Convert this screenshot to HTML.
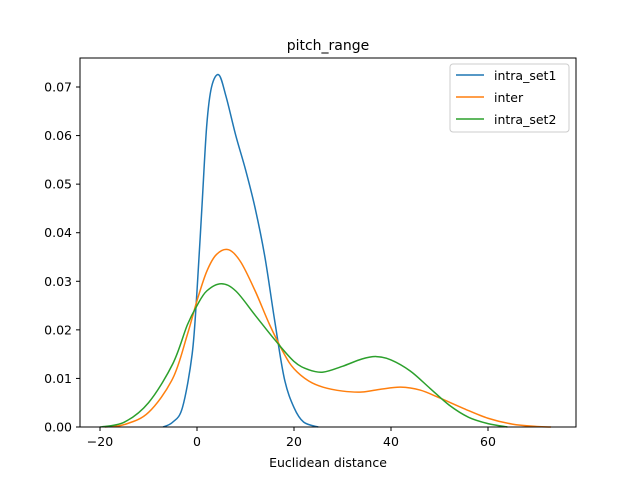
<!DOCTYPE html>
<html><head><meta charset="utf-8"><style>
body{margin:0;background:#fff;}
svg{display:block;font-family:"DejaVu Sans","Liberation Sans",sans-serif;}
</style></head><body>
<svg id="chart" width="640" height="480">
<rect width="640" height="480" fill="#fff"/>
<text x="328" y="50" font-size="14" text-anchor="middle">pitch_range</text>
<g id="plot"></g>
<rect x="80" y="58" width="496" height="369" fill="none" stroke="#000" stroke-width="1"/>
<text x="328" y="467" font-size="12.5" text-anchor="middle">Euclidean distance</text>
<g id="xt"></g><g id="yt"></g>
<g>
<rect x="450" y="64" width="119" height="68" rx="3" fill="#fff" stroke="#ccc"/>
<line x1="456" y1="75" x2="484" y2="75" stroke="#1f77b4" stroke-width="1.5"/>
<text x="494" y="80" font-size="12.5">intra_set1</text>
<line x1="456" y1="97" x2="484" y2="97" stroke="#ff7f0e" stroke-width="1.5"/>
<text x="494" y="102" font-size="12.5">inter</text>
<line x1="456" y1="119" x2="484" y2="119" stroke="#2ca02c" stroke-width="1.5"/>
<text x="494" y="124" font-size="12.5">intra_set2</text>
</g>
</svg>
<script>
const xTicks=[-20,0,20,40,60];
const yTicks=[0,0.01,0.02,0.03,0.04,0.05,0.06,0.07];
const yTickLabels=["0.00","0.01","0.02","0.03","0.04","0.05","0.06","0.07"];
const set1X=[-7,-5,-3,-1,0,1,2,3,4.5,6,8,10,12,14,16,18,20,22,25];
const set1Y=[0,0.001,0.004,0.015,0.028,0.045,0.062,0.070,0.0725,0.068,0.060,0.053,0.045,0.035,0.022,0.010,0.004,0.001,0];
const interX=[-19,-15,-10,-5,-2,0,2,4,6.5,9,12,15,18,20,23,26,30,34,38,42,46,50,55,60,65,70,73];
const interY=[0,0.0005,0.003,0.010,0.019,0.026,0.032,0.0355,0.0365,0.034,0.028,0.021,0.015,0.012,0.0095,0.0082,0.0074,0.0072,0.0078,0.0082,0.0076,0.006,0.0038,0.0018,0.0006,0.0001,0];
const set2X=[-20,-15,-10,-5,-2,0,2,5,8,12,16,20,23,26,30,34,37,40,44,48,52,56,60,64];
const set2Y=[0,0.001,0.005,0.013,0.021,0.025,0.028,0.0295,0.028,0.023,0.018,0.0135,0.0118,0.0113,0.0125,0.014,0.0145,0.0138,0.0115,0.008,0.0045,0.002,0.0007,0];
const NS="http://www.w3.org/2000/svg";
const sx=v=>197+v*4.85;
const sy=v=>427-v*340/0.07;
const plot=document.getElementById('plot');
function path(xs,ys,color,name){
  const p=xs.map((x,i)=>[sx(x),sy(ys[i])]);
  let d="M"+p[0][0]+","+p[0][1];
  for(let i=0;i<p.length-1;i++){
    const p0=p[Math.max(0,i-1)],p1=p[i],p2=p[i+1],p3=p[Math.min(p.length-1,i+2)];
    const c1=[p1[0]+(p2[0]-p0[0])/6,p1[1]+(p2[1]-p0[1])/6];
    const c2=[p2[0]-(p3[0]-p1[0])/6,p2[1]-(p3[1]-p1[1])/6];
    d+=` C${c1[0]},${Math.min(427,c1[1])} ${c2[0]},${Math.min(427,c2[1])} ${p2[0]},${p2[1]}`;
  }
  const el=document.createElementNS(NS,'path');
  el.setAttribute('d',d);el.setAttribute('fill','none');el.setAttribute('stroke',color);el.setAttribute('stroke-width','1.5');
  
  
  plot.appendChild(el);
}
path(set1X,set1Y,'#1f77b4','line-intra-set1');
path(interX,interY,'#ff7f0e','line-inter');
path(set2X,set2Y,'#2ca02c','line-intra-set2');
const xt=document.getElementById('xt');
xTicks.forEach(v=>{
  const x=sx(v);
  const l=document.createElementNS(NS,'line');
  l.setAttribute('x1',x);l.setAttribute('x2',x);l.setAttribute('y1',427);l.setAttribute('y2',431);l.setAttribute('stroke','#000');
  
  
  xt.appendChild(l);
  const t=document.createElementNS(NS,'text');
  t.setAttribute('x',x);t.setAttribute('y',446);t.setAttribute('font-size','12.5');t.setAttribute('text-anchor','middle');
  t.textContent=v<0?'\u2212'+Math.abs(v):String(v);
  
  
  xt.appendChild(t);
});
const yt=document.getElementById('yt');
yTicks.forEach((v,i)=>{
  const y=sy(v);
  const l=document.createElementNS(NS,'line');
  l.setAttribute('x1',76);l.setAttribute('x2',80);l.setAttribute('y1',y);l.setAttribute('y2',y);l.setAttribute('stroke','#000');
  
  
  yt.appendChild(l);
  const t=document.createElementNS(NS,'text');
  t.setAttribute('x',72);t.setAttribute('y',y+4.5);t.setAttribute('font-size','12.5');t.setAttribute('text-anchor','end');
  t.textContent=yTickLabels[i];
  
  
  yt.appendChild(t);
});
</script>
</body></html>
